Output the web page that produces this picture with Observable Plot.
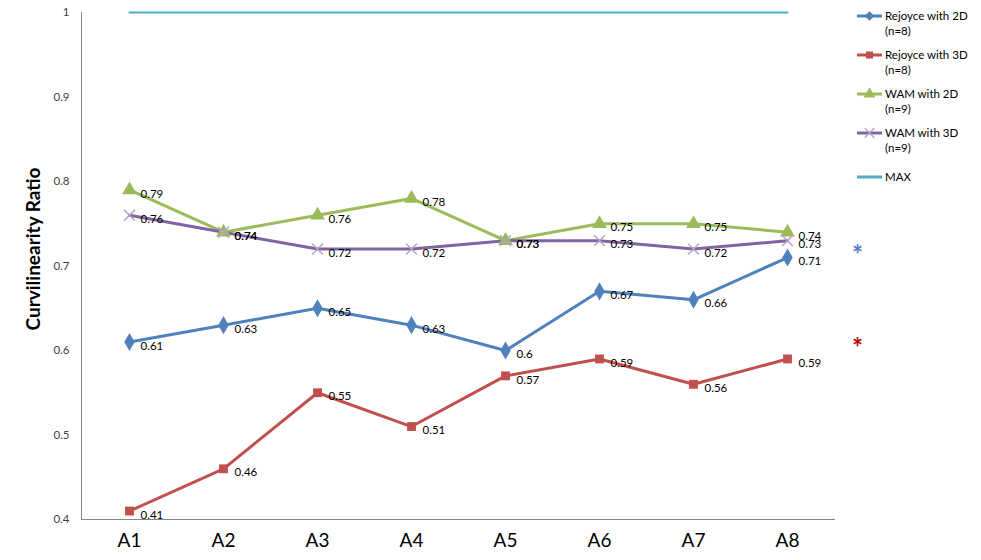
<!DOCTYPE html>
<html>
<head>
<meta charset="utf-8">
<script src="https://cdn.jsdelivr.net/npm/d3@7"></script>
<script src="https://cdn.jsdelivr.net/npm/@observablehq/plot@0.6"></script>
<style>
  body { margin: 0; background: #fff; font-family: Lato, "Open Sans", sans-serif; }
  #wrap { position: relative; width: 981px; height: 560px; }
  #legend { position: absolute; left: 855px; top: 0; }
</style>
</head>
<body>
<div id="wrap">
  <div id="chart"></div>
  <div id="legend"></div>
</div>
<script>
const categories = ["A1", "A2", "A3", "A4", "A5", "A6", "A7", "A8"];
const rejoyce2D = [0.61, 0.63, 0.65, 0.63, 0.60, 0.67, 0.66, 0.71];
const rejoyce3D = [0.41, 0.46, 0.55, 0.51, 0.57, 0.59, 0.56, 0.59];
const wam2D = [0.79, 0.74, 0.76, 0.78, 0.73, 0.75, 0.75, 0.74];
const wam3D = [0.76, 0.74, 0.72, 0.72, 0.73, 0.73, 0.72, 0.73];
const maxLine = [1, 1, 1, 1, 1, 1, 1, 1];
const yTicks = [0.4, 0.5, 0.6, 0.7, 0.8, 0.9, 1];
const seriesNames = ["Rejoyce with 2D", "Rejoyce with 3D", "WAM with 2D", "WAM with 3D", "MAX"];
const seriesSub = ["(n=8)", "(n=8)", "(n=9)", "(n=9)", ""];
const seriesColors = ["#4F81BD", "#C0504D", "#9BBB59", "#8064A2", "#4BACC6"];
const seriesSymbols = ["diamond", "square", "triangle", "times", null];
const sigStars = [
  {x: "A8", y: 0.722, text: "*", color: "#4F81BD"},
  {x: "A8", y: 0.612, text: "*", color: "#C00000"}
];

const allValues = [rejoyce2D, rejoyce3D, wam2D, wam3D, maxLine];
const rows = [];
allValues.forEach((vals, si) => vals.forEach((v, i) => rows.push({series: seriesNames[si], si, x: categories[i], y: v})));
const pointRows = rows.filter(d => d.si < 4);

const marks = [
  Plot.ruleY([0.4], {stroke: "#868686", strokeWidth: 1}),
  Plot.frame({anchor: "left", stroke: "#868686"}),
  Plot.axisY({ticks: yTicks, tickSize: 0, tickPadding: 12, fontSize: 11.5, fill: "#404040", label: null,
    tickFormat: d => String(+d.toFixed(1))}),
  Plot.axisX({tickSize: 0, tickPadding: 14, fontSize: 19, label: null, fill: "#000"}),
  Plot.text(["Curvilinearity Ratio"], {frameAnchor: "left", textAnchor: "middle", rotate: -90, dx: -48, dy: -17, fontSize: 19, fontWeight: "bold", fill: "#000"})
];
seriesNames.forEach((name, si) => {
  marks.push(Plot.line(rows.filter(d => d.si === si), {x: "x", y: "y", stroke: seriesColors[si], strokeWidth: si === 4 ? 2 : 3}));
});
seriesNames.forEach((name, si) => {
  if (si === 4) return;
  const data = rows.filter(d => d.si === si);
  const sym = seriesSymbols[si];
  if (sym === "times") {
    marks.push(Plot.dot(data, {x: "x", y: "y", symbol: "times", r: 5, stroke: "#B3A2C7", strokeWidth: 1.5}));
  } else {
    marks.push(Plot.dot(data, {x: "x", y: "y", symbol: sym, r: sym === "square" ? 5 : 5.5, fill: seriesColors[si], stroke: "none"}));
  }
});
marks.push(Plot.text(pointRows, {x: "x", y: "y", text: d => String(d.y), textAnchor: "start", dx: 11, dy: 4, fontSize: 11.5, fill: "#000"}));
marks.push(Plot.text(sigStars, {x: "x", y: "y", text: "text", fill: "color", dx: 70, dy: 8, fontSize: 26, fontWeight: "bold"}));

const chart = Plot.plot({
  width: 981,
  height: 560,
  marginLeft: 81,
  marginRight: 146,
  marginTop: 12,
  marginBottom: 41,
  style: {fontFamily: "Lato, 'Open Sans', sans-serif", background: "#fff"},
  x: {type: "point", domain: categories, padding: 0.5},
  y: {domain: [0.4, 1]},
  marks
});
document.getElementById("chart").appendChild(chart);

// legend
const lg = d3.select("#legend").append("svg").attr("width", 126).attr("height", 200)
  .style("font-family", "Lato, 'Open Sans', sans-serif").style("font-size", "11.5px");
const rowTops = [16, 55, 94, 133, 177];
seriesNames.forEach((name, si) => {
  const y = rowTops[si];
  const g = lg.append("g");
  g.append("line").attr("x1", 2).attr("x2", 27).attr("y1", y).attr("y2", y)
    .attr("stroke", seriesColors[si]).attr("stroke-width", 3);
  const sym = seriesSymbols[si];
  if (sym) {
    const map = {diamond: d3.symbolDiamond2, square: d3.symbolSquare, triangle: d3.symbolTriangle, times: d3.symbolTimes};
    const p = g.append("path").attr("transform", `translate(14.5,${y})`)
      .attr("d", d3.symbol(map[sym], sym === "square" ? 50 : 60)());
    if (sym === "times") p.attr("fill", "none").attr("stroke", "#B3A2C7").attr("stroke-width", 1.5);
    else p.attr("fill", seriesColors[si]);
  }
  g.append("text").attr("x", 30).attr("y", y).attr("dy", "0.35em").attr("fill", "#000").text(name);
  if (seriesSub[si]) g.append("text").attr("x", 30).attr("y", y + 15).attr("dy", "0.35em").attr("fill", "#000").text(seriesSub[si]);
});
</script>
</body>
</html>
